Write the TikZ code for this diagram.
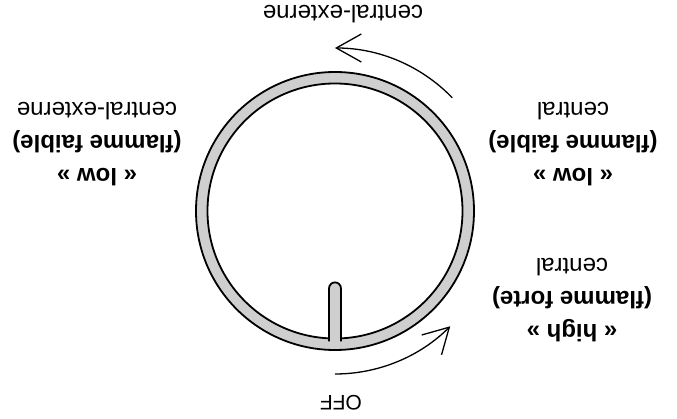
\documentclass[tikz,border=0pt]{standalone}
\usepackage{fontspec}
\setmainfont{Liberation Sans}
\usepackage{xcolor}
\usepackage{tikz}
\usetikzlibrary{positioning, arrows.meta, calc}
\definecolor{ringgray}{gray}{0.81}
\tikzset{
  ring/.style  ={draw, circle, line width=1.8pt, fill=ringgray, inner sep=0pt},
  face/.style  ={draw, circle, line width=1.8pt, fill=white, inner sep=0pt},
  knob/.style  ={draw, line width=1.8pt, fill=ringgray, rounded corners=6pt},
  turn/.style  ={-{Straight Barb[length=25pt, width=28pt]}, line width=1.3pt},
  lbl/.style   ={font=\fontsize{24}{33}\selectfont, align=center, rotate=180, inner sep=0pt},
  offl/.style  ={font=\fontsize{21}{24}\selectfont, rotate=180, inner sep=0pt},
}

\begin{document}
\begin{tikzpicture}[x=1pt, y=1pt]
  \useasboundingbox (-335,-208) rectangle (342,211);
  \node[ring, minimum size=278pt] (dial) at (0,0) {};
  \node[face, minimum size=255pt] (face) at (dial.center) {};
  \draw[knob] ($(face.south)+(-6,-2)$) -- ++(0,59) -- ++(12,0) -- ++(0,-59);
  % sens de rotation
  \coordinate (offarc) at ($(dial.center)+(270:163)$);
  \coordinate (lowarc) at ($(dial.center)+(44:163)$);
  \draw[turn] (offarc) arc[start angle=270, end angle=315, radius=163];
  \draw[turn] (lowarc) arc[start angle=44, end angle=90, radius=163];
  % positions
  \node[offl] (offlbl) at (6,-192) {OFF};
  \node[lbl] (highlbl) at (237,-89) {\textbf{« high »}\\\textbf{(flamme forte)}\\central};
  \node[lbl] (lowlbl) at (238,67) {\textbf{« low »}\\\textbf{(flamme faible)}\\central};
  \node[lbl] (lowext) at (-238,67) {\textbf{« low »}\\\textbf{(flamme faible)}\\central-externe};
  \node[lbl] (extlbl) at (8,197) {central-externe};
\end{tikzpicture}
\end{document}
